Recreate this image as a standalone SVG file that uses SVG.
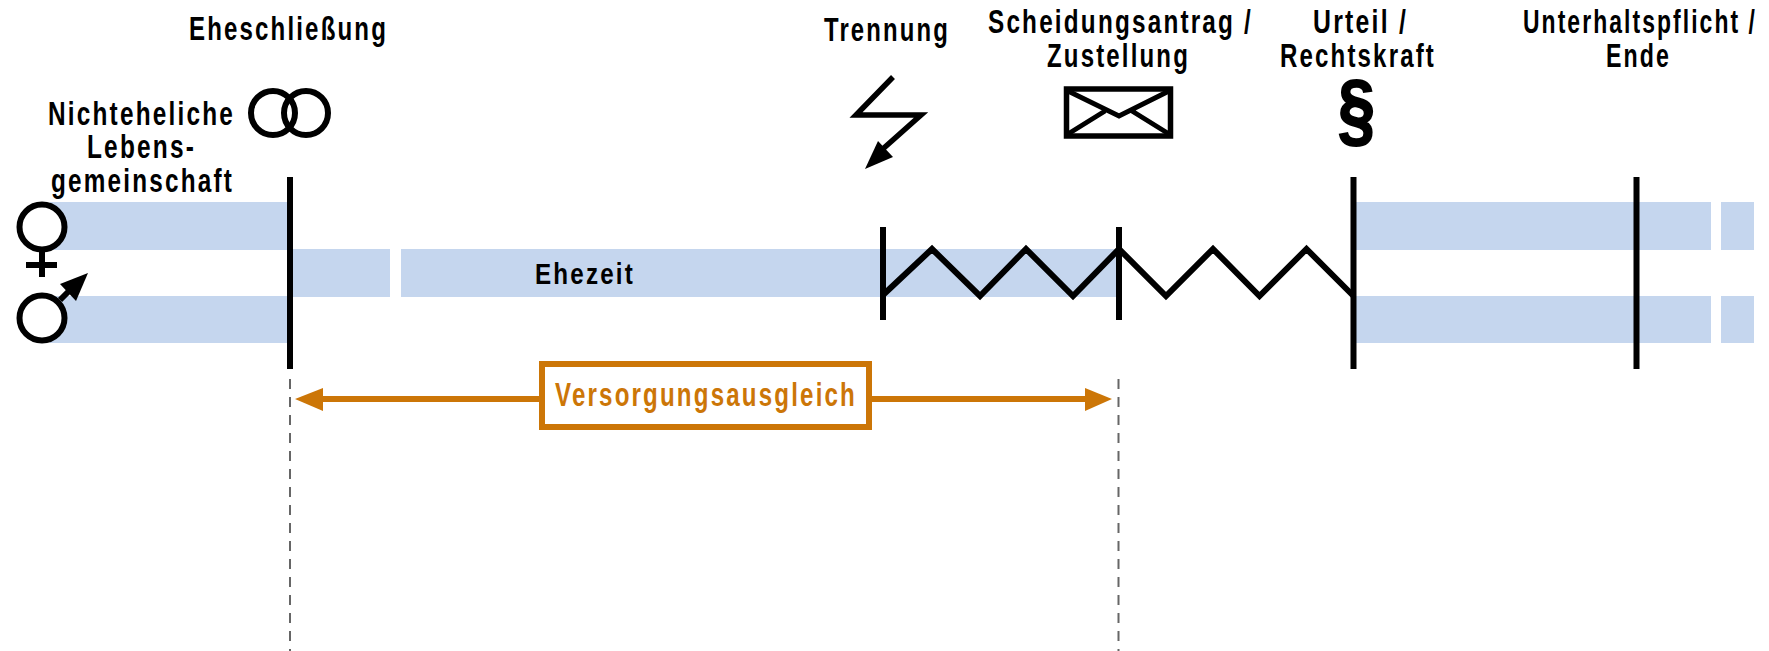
<svg xmlns="http://www.w3.org/2000/svg" width="1769" height="651" viewBox="0 0 1769 651">
<style>
.t{font-family:"Liberation Sans",Arial,sans-serif;font-size:33px;font-weight:bold;fill:#000;stroke:none;letter-spacing:0.09em}
.bar{fill:#c5d6ee;stroke:none}
.ln{stroke:#000;stroke-width:6;fill:none}
.sym{stroke:#000;stroke-width:6;fill:#fff}
.dash{stroke:#666;stroke-width:2;stroke-dasharray:10 8;fill:none}
.o{fill:#cc7607}
</style>
<rect width="1769" height="651" fill="#fff"/>
<g id="bars">
<rect class="bar" x="50" y="202" width="240" height="48"/>
<rect class="bar" x="50" y="296" width="240" height="47"/>
<rect class="bar" x="290" y="249" width="100" height="48"/>
<rect class="bar" x="401" y="249" width="718" height="48"/>
<rect class="bar" x="1354" y="202" width="357" height="48"/>
<rect class="bar" x="1354" y="296" width="357" height="47"/>
<rect class="bar" x="1721" y="202" width="33" height="48"/>
<rect class="bar" x="1721" y="296" width="33" height="47"/>
</g>
<g id="connectors">
<path class="dash" d="M290 379V651M1118.500 379V651"/>
<path class="ln" d="M290 177V369M1353.500 177V369M1636.500 177V369M883 227V320M1119 227V320"/>
<path class="ln" d="M883 295L932 249L980 296L1026 249L1073 296L1119 249L1166 296L1213 249L1259.500 296L1306.500 249L1353.500 296"/>
<path d="M323 399H1085" fill="none" stroke="#cc7607" stroke-width="6"/>
<polygon class="o" points="295,399 323,388 323,411"/>
<polygon class="o" points="1112,399 1085,388 1085,411"/>
</g>
<g id="node-versorgungsausgleich">
<rect x="542" y="364" width="327" height="63" fill="#fff" stroke="#cc7607" stroke-width="6"/>
<text class="t" style="fill:#cc7607" x="555" y="406" textLength="302" lengthAdjust="spacingAndGlyphs">Versorgungsausgleich</text>
</g>
<g id="node-ehezeit"><text class="t" x="535" y="284" textLength="100" lengthAdjust="spacingAndGlyphs" style="font-size:30px">Ehezeit</text></g>
<g id="node-eheschliessung">
<text class="t" x="189" y="40" textLength="199" lengthAdjust="spacingAndGlyphs">Eheschließung</text>
<g fill="none" stroke="#000" stroke-width="6"><circle cx="273" cy="113" r="22"/><circle cx="306" cy="113" r="22"/></g>
</g>
<g id="node-lebensgemeinschaft">
<text class="t" x="48" y="125" textLength="187" lengthAdjust="spacingAndGlyphs">Nichteheliche</text>
<text class="t" x="87" y="158" textLength="109" lengthAdjust="spacingAndGlyphs">Lebens-</text>
<text class="t" x="51" y="192" textLength="183" lengthAdjust="spacingAndGlyphs">gemeinschaft</text>
</g>
<g id="node-venus">
<circle class="sym" cx="42" cy="227" r="22.500"/>
<path class="ln" d="M42 250V277M26 265H57"/>
</g>
<g id="node-mars">
<circle class="sym" cx="42" cy="318" r="22.500"/>
<path class="ln" d="M60 300L76 284"/>
<polygon points="88,273 60,284 76,301" fill="#000"/>
</g>
<g id="node-trennung">
<text class="t" x="824" y="41" textLength="126" lengthAdjust="spacingAndGlyphs">Trennung</text>
<path fill="none" stroke="#000" stroke-width="5.500" d="M893 77L856 115H921L876 155"/>
<polygon points="865,169 878,141 893,157" fill="#000"/>
</g>
<g id="node-scheidungsantrag">
<text class="t" x="988" y="33" textLength="265" lengthAdjust="spacingAndGlyphs">Scheidungsantrag /</text>
<text class="t" x="1047" y="67" textLength="143" lengthAdjust="spacingAndGlyphs">Zustellung</text>
<rect x="1066.500" y="89" width="104" height="47" fill="#fff" stroke="#000" stroke-width="5.500"/>
<path fill="none" stroke="#000" stroke-width="5" d="M1068 91L1119 116L1169 91M1068 134L1105 111M1169 134L1132 111"/>
</g>
<g id="node-urteil">
<text class="t" x="1313" y="33" textLength="95" lengthAdjust="spacingAndGlyphs">Urteil /</text>
<text class="t" x="1280" y="67" textLength="156" lengthAdjust="spacingAndGlyphs">Rechtskraft</text>
<text x="1338" y="137" font-family="'Liberation Sans',Arial,sans-serif" font-weight="bold" font-size="82" stroke="#000" stroke-width="2" textLength="37" lengthAdjust="spacingAndGlyphs">§</text>
</g>
<g id="node-unterhalt">
<text class="t" x="1523" y="33" textLength="234" lengthAdjust="spacingAndGlyphs">Unterhaltspflicht /</text>
<text class="t" x="1606" y="67" textLength="65" lengthAdjust="spacingAndGlyphs">Ende</text>
</g>
</svg>
